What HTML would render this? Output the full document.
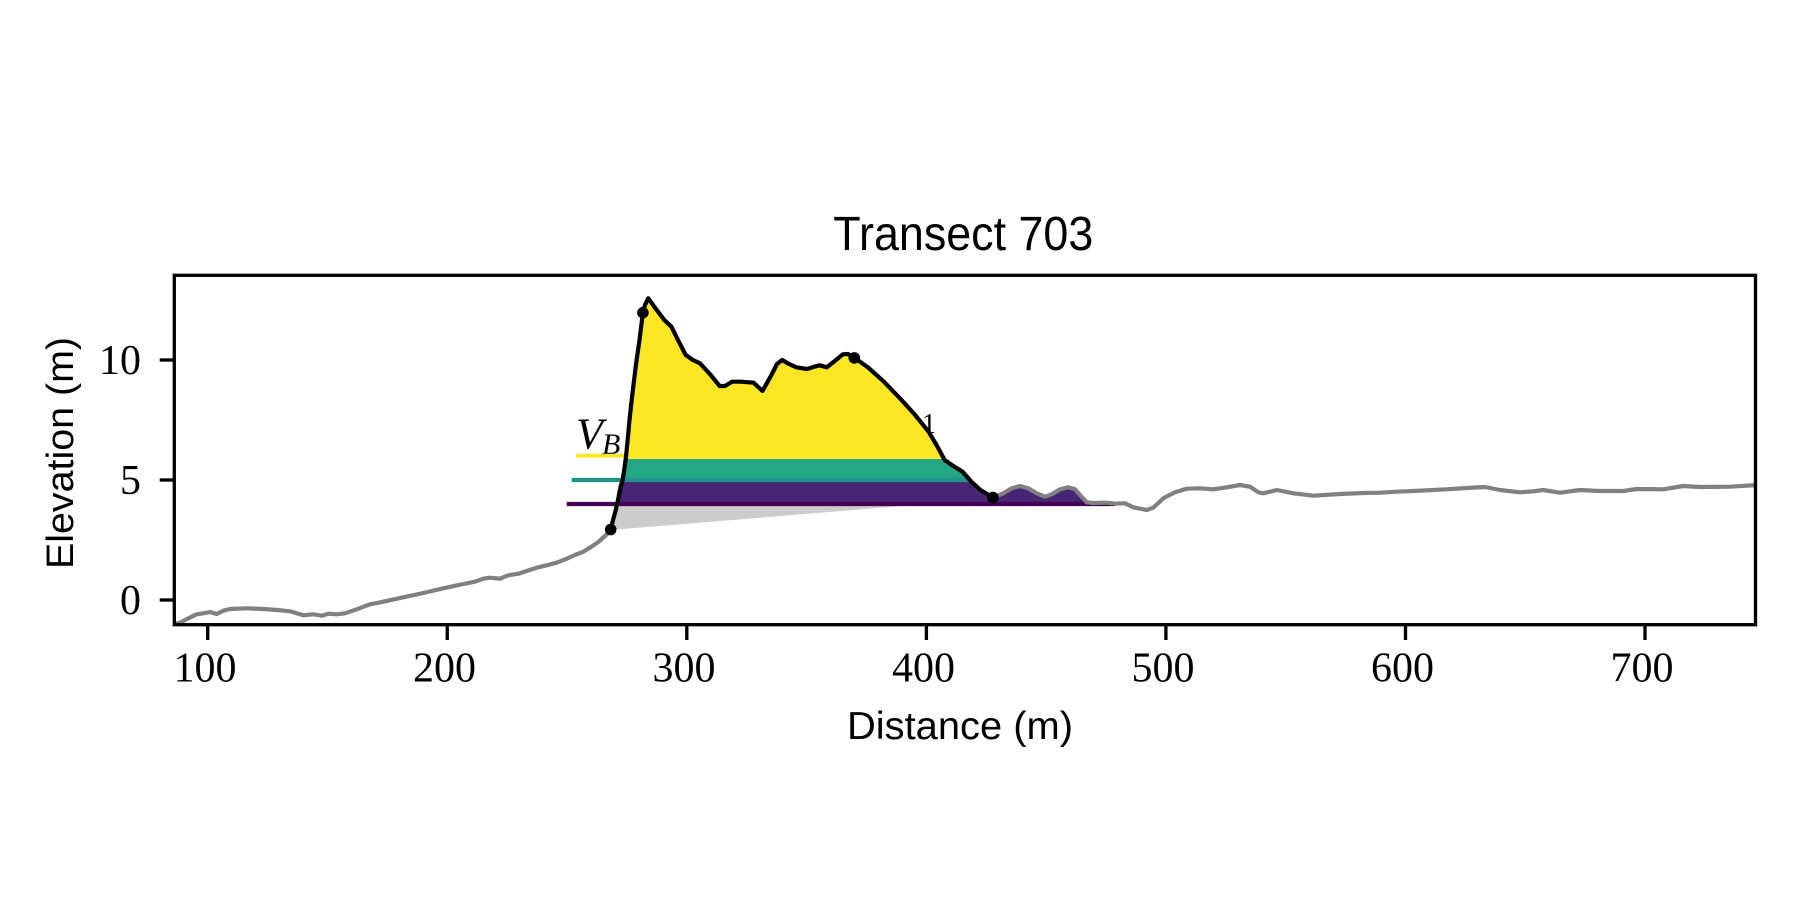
<!DOCTYPE html>
<html>
<head>
<meta charset="utf-8">
<style>
  html, body { margin: 0; padding: 0; background: #ffffff; }
  svg { display: block; }
  .tick { font-family: "Liberation Serif", "DejaVu Serif", serif; font-size: 42px; fill: #000; }
  .lab { font-family: "Liberation Sans", "DejaVu Sans", sans-serif; fill: #000; }
</style>
</head>
<body>
<svg width="1800" height="900" viewBox="0 0 1800 900" xmlns="http://www.w3.org/2000/svg">
  <rect x="0" y="0" width="1800" height="900" fill="#ffffff"/>
  <defs>
    <clipPath id="axclip">
      <rect x="174.3" y="275.3" width="1581.2" height="349.4"/>
    </clipPath>
    <clipPath id="bandclip">
      <polygon points="
        610.7,529.5 613,520 615.5,511 618,500 620.5,487 622.7,480 624.5,468 626,456.7 628.3,433.3 629.5,420 631.7,400 635.7,366.7 639.5,340 642.9,312.7 645,305 648.2,298.3
        656,309 664.3,320 671.4,326.7 678,340 685.7,355 692.9,360 700,363.3 710.7,375 719.6,386 725,386 732.1,381.7 741.1,381.7 753.6,382.7 762.5,391 771.4,375 777,364 782.1,360 789,364 796.4,367.3 807.1,369 814.3,366.7 819.6,365.3 826.8,367.3 833.9,361.7 842.9,354.3 848,354 854.3,357.7 867.9,367.3 883.9,381.7 900,398.3 914.3,414 928.6,431.7 937.5,446.7 944.6,460 951.8,465 962.5,471.7 971.4,481.7 980.4,490 992.9,497.5
        1003.3,493.3 1011.7,488.3 1020,486 1028.3,488.3 1036.7,493.3 1045,496.7 1051.7,494.3 1060,489.3 1068.3,487.3 1075,489.3 1080,495 1086.7,502.3 1093.3,503 1106.7,502.7 1115,503.7 1125,503.3 1133.3,507.3
        1133.3,545 608,545"/>
    </clipPath>
  </defs>

  <!-- partially hidden labels -->
  <text x="922" y="433" font-family="Liberation Serif, DejaVu Serif, serif" font-size="28" fill="#000">1</text>
  <text x="576" y="448.5" font-family="Liberation Serif, DejaVu Serif, serif" font-style="italic" font-size="44" fill="#000">V</text>
  <text x="602" y="454" font-family="Liberation Serif, DejaVu Serif, serif" font-style="italic" font-size="30" fill="#000">B</text>

  <!-- gray fill -->
  <polygon points="610.7,530 613,520 615.5,511 617.3,504 926,504" fill="#cccccc"/>

  <!-- bands -->
  <g clip-path="url(#bandclip)">
    <rect x="560" y="270" width="600" height="189" fill="#fde725"/>
    <rect x="560" y="459" width="600" height="21" fill="#22a884"/>
    <rect x="560" y="480" width="600" height="24" fill="#482475"/>
  </g>

  <!-- level lines -->
  <line x1="576" y1="455.7" x2="942" y2="455.7" stroke="#fde725" stroke-width="3.8"/>
  <line x1="571.7" y1="480" x2="969" y2="480" stroke="#21918c" stroke-width="4.2"/>
  <line x1="566.7" y1="504" x2="1115" y2="504" stroke="#440154" stroke-width="4.2"/>

  <g clip-path="url(#axclip)">
    <!-- gray profile left -->
    <polyline fill="none" stroke="#808080" stroke-width="4.2" stroke-linejoin="round" points="
      172,624.6 180,622.7 188.3,618.3 196.7,614.3 203.3,613.3 210,612 216.7,614 223.3,610.7 230,609 246.7,608.3 263.3,609 276.7,610 290,611.3 296.7,613.3 303.3,615.3 313.3,614.3 321.7,615.7 328.3,613.7 336.7,614.3 345,613.3 356.7,609.3 370,604.3 383.3,601.7 403.3,597.3 423.3,593 443.3,588.3 463.3,584 475,581.7 483.3,578.7 490,577.7 500,578.7 508.3,575.3 518.3,573.7 526.7,571 536.7,567.7 546.7,565.3 556.7,562.7 566.7,558.7 575,555 583.3,551.7 590,547.7 598.3,542 605,536 610.7,530"/>
    <!-- gray profile right -->
    <polyline fill="none" stroke="#808080" stroke-width="4.2" stroke-linejoin="round" points="
      992.9,497.5 1003.3,493.3 1011.7,488.3 1020,486 1028.3,488.3 1036.7,493.3 1045,496.7 1051.7,494.3 1060,489.3 1068.3,487.3 1075,489.3 1080,495 1086.7,502.3 1093.3,503 1106.7,502.7 1115,503.7 1125,503.3 1133.3,507.3 1146.7,510 1153.3,507.7 1163.3,498.3 1175,492.3 1186.7,488.7 1200,488.3 1213.3,489.3 1226.7,487.3 1240,485 1250,486.7 1258.3,492.3 1263.3,493.3 1276.7,490 1293.3,493.3 1313.3,495.7 1340,494 1363.3,493 1380,492.7 1396.7,491.7 1413.3,491 1446.7,489.3 1466.7,488 1485,487 1500,490 1520,492.3 1533.3,491.3 1543.3,490 1560,492.7 1580,490 1600,491 1623.3,491 1636.7,489 1663.3,489.3 1683.3,486 1700,487 1730,486.7 1758,485"/>
  </g>

  <!-- black profile -->
  <polyline fill="none" stroke="#000000" stroke-width="4.2" stroke-linejoin="round" points="
    610.7,529.5 613,520 615.5,511 618,500 620.5,487 622.7,480 624.5,468 626,456.7 628.3,433.3 629.5,420 631.7,400 635.7,366.7 639.5,340 642.9,312.7 645,305 648.2,298.3
    656,309 664.3,320 671.4,326.7 678,340 685.7,355 692.9,360 700,363.3 710.7,375 719.6,386 725,386 732.1,381.7 741.1,381.7 753.6,382.7 762.5,391 771.4,375 777,364 782.1,360 789,364 796.4,367.3 807.1,369 814.3,366.7 819.6,365.3 826.8,367.3 833.9,361.7 842.9,354.3 848,354 854.3,357.7 867.9,367.3 883.9,381.7 900,398.3 914.3,414 928.6,431.7 937.5,446.7 944.6,460 951.8,465 962.5,471.7 971.4,481.7 980.4,490 992.9,497.5"/>

  <!-- dots -->
  <circle cx="610.7" cy="529.5" r="5.8" fill="#000"/>
  <circle cx="642.9" cy="312.7" r="5.8" fill="#000"/>
  <circle cx="854.3" cy="357.9" r="5.8" fill="#000"/>
  <circle cx="992.9" cy="497.5" r="5.8" fill="#000"/>

  <!-- spines -->
  <rect x="174.3" y="275.3" width="1581.2" height="349.4" fill="none" stroke="#000" stroke-width="3.33"/>

  <!-- y ticks -->
  <g stroke="#000" stroke-width="3.33">
    <line x1="159.7" y1="360" x2="174.3" y2="360"/>
    <line x1="159.7" y1="480" x2="174.3" y2="480"/>
    <line x1="159.7" y1="600" x2="174.3" y2="600"/>
  </g>
  <text class="tick" x="141" y="374" text-anchor="end">10</text>
  <text class="tick" x="141" y="494" text-anchor="end">5</text>
  <text class="tick" x="141" y="614" text-anchor="end">0</text>

  <!-- x ticks -->
  <g stroke="#000" stroke-width="3.33">
    <line x1="207.7" y1="624.7" x2="207.7" y2="640"/>
    <line x1="447.25" y1="624.7" x2="447.25" y2="640"/>
    <line x1="686.8" y1="624.7" x2="686.8" y2="640"/>
    <line x1="926.4" y1="624.7" x2="926.4" y2="640"/>
    <line x1="1165.9" y1="624.7" x2="1165.9" y2="640"/>
    <line x1="1405.5" y1="624.7" x2="1405.5" y2="640"/>
    <line x1="1645" y1="624.7" x2="1645" y2="640"/>
  </g>
  <text class="tick" x="205" y="681.5" text-anchor="middle">100</text>
  <text class="tick" x="444.5" y="681.5" text-anchor="middle">200</text>
  <text class="tick" x="684" y="681.5" text-anchor="middle">300</text>
  <text class="tick" x="923.5" y="681.5" text-anchor="middle">400</text>
  <text class="tick" x="1163" y="681.5" text-anchor="middle">500</text>
  <text class="tick" x="1402.5" y="681.5" text-anchor="middle">600</text>
  <text class="tick" x="1642" y="681.5" text-anchor="middle">700</text>

  <!-- labels -->
  <text class="lab" x="963.3" y="250" text-anchor="middle" font-size="48" textLength="260" lengthAdjust="spacingAndGlyphs">Transect 703</text>
  <text class="lab" x="960" y="739" text-anchor="middle" font-size="39" textLength="226" lengthAdjust="spacingAndGlyphs">Distance (m)</text>
  <text class="lab" transform="translate(73,453) rotate(-90)" text-anchor="middle" font-size="38" textLength="232" lengthAdjust="spacingAndGlyphs">Elevation (m)</text>
</svg>
</body>
</html>
